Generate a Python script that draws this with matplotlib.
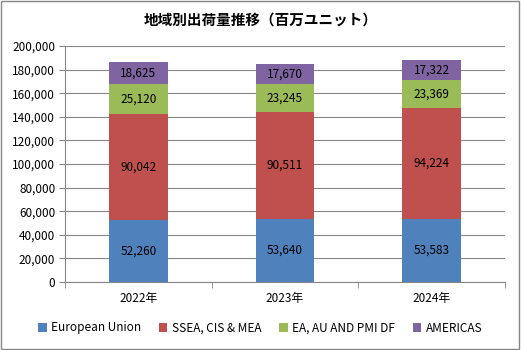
import numpy as np
import matplotlib.pyplot as plt
from matplotlib.patches import Rectangle

plt.rcParams['font.family'] = ['Noto Sans CJK JP', 'DejaVu Sans']

years = ["2022年", "2023年", "2024年"]
series = ["European Union", "SSEA, CIS & MEA", "EA, AU AND PMI DF", "AMERICAS"]
eu = [52260, 53640, 53583]
ssea = [90042, 90511, 94224]
ea = [25120, 23245, 23369]
americas = [18625, 17670, 17322]
colors = ["#4F81BD", "#C0504D", "#9BBB59", "#8064A2"]

fig = plt.figure(figsize=(5.21, 3.5), dpi=100)
ax = fig.add_axes([65/521, 1-282/350, 440/521, 236/350])

x = np.arange(len(years))
bottom = np.zeros(len(years))
for name, vals, c in zip(series, [eu, ssea, ea, americas], colors):
    vals = np.array(vals)
    ax.bar(x, vals, 0.4, bottom=bottom, color=c, label=name, zorder=2)
    for xi, b, v in zip(x, bottom, vals):
        ax.text(xi, b + v/2, f"{v:,}", ha='center', va='center', fontsize=8.5, zorder=3)
    bottom += vals

ax.set_xlim(-0.5, 2.5)
ax.set_ylim(0, 200000)
ax.set_yticks(np.arange(0, 200001, 20000))
ax.set_yticklabels([f"{v:,}" for v in range(0, 200001, 20000)], fontsize=8.5)
ax.set_xticks(x)
ax.set_xticklabels(years, fontsize=8.5)
ax.set_xticks([-0.5, 0.5, 1.5, 2.5], minor=True)
ax.tick_params(axis='x', which='major', length=0, pad=7)
ax.tick_params(axis='x', which='minor', length=4, color='#868686')
ax.tick_params(axis='y', length=4, color='#868686', pad=3)
ax.grid(axis='y', color='#868686', linewidth=0.8, zorder=0)
for s in ['top', 'right']:
    ax.spines[s].set_visible(False)
for s in ['left', 'bottom']:
    ax.spines[s].set_color('#868686')

fig.text(0.5, 1-20/350, "地域別出荷量推移（百万ユニット）", ha='center', va='center',
         fontsize=10.5, fontweight='bold')
fig.legend(loc='center', bbox_to_anchor=(0.5, 1-328/350), ncol=4, fontsize=8.5,
           frameon=False, handlelength=0.7, handleheight=0.7, columnspacing=1.5,
           handletextpad=0.4)
fig.patches.append(Rectangle((0.002, 0.003), 0.995, 0.993, transform=fig.transFigure,
                             fill=False, edgecolor='#868686', linewidth=1))
fig.savefig("out.png", dpi=100)
